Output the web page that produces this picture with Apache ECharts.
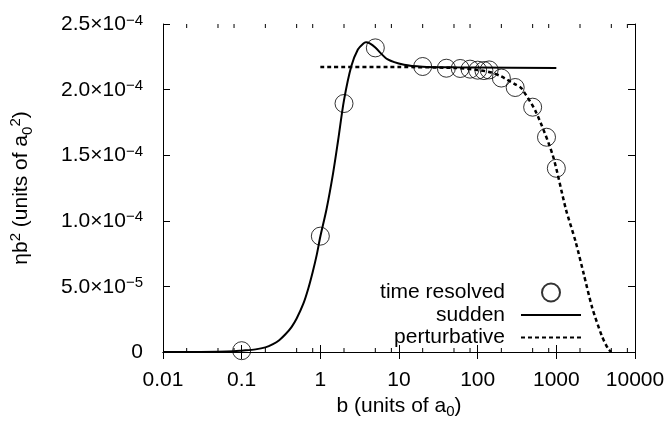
<!DOCTYPE html>
<html>
<head>
<meta charset="utf-8">
<script src="https://cdn.jsdelivr.net/npm/echarts@6/dist/echarts.min.js"></script>
<style>html,body{margin:0;padding:0;background:#fff;}#c{width:670px;height:424px;}</style>
</head>
<body>
<div id="c"></div>
<script>
// ---- data ----
const xTickValues = [0.01, 0.1, 1, 10, 100, 1000, 10000];
const xMinorTicks = [0.02,0.05,0.08, 0.2,0.5,0.8, 2,5,8, 20,50,80, 200,500,800, 2000,5000,8000];
const yTickValues = [0, 5e-5, 1e-4, 1.5e-4, 2e-4, 2.5e-4];

const timeResolvedB = [0.1, 1, 2, 5, 20, 40, 60, 80, 100, 120, 140, 200, 300, 500, 750, 1000];
const timeResolvedV = [1.0e-6, 8.83e-5, 1.894e-4, 2.318e-4, 2.176e-4, 2.163e-4, 2.161e-4, 2.156e-4, 2.148e-4, 2.145e-4, 2.150e-4, 2.088e-4, 2.016e-4, 1.866e-4, 1.637e-4, 1.40e-4];

const suddenB = [0.01, 0.03, 0.05, 0.08, 0.1, 0.15, 0.2, 0.25, 0.3, 0.36, 0.43, 0.5, 0.61, 0.7, 0.8, 0.9, 1.0, 1.2, 1.45, 1.68, 2.0, 2.48, 3.0, 3.5, 3.8, 4.3, 5, 7.2, 11.6, 20, 50, 100, 1000];
const suddenV = [0, 0, 1e-7, 5e-7, 1.0e-6, 2.0e-6, 3.5e-6, 6e-6, 9e-6, 1.35e-5, 1.9e-5, 2.55e-5, 3.7e-5, 4.8e-5, 6.1e-5, 7.4e-5, 8.8e-5, 1.09e-4, 1.36e-4, 1.61e-4, 1.92e-4, 2.18e-4, 2.305e-4, 2.35e-4, 2.36e-4, 2.35e-4, 2.32e-4, 2.23e-4, 2.19e-4, 2.175e-4, 2.17e-4, 2.168e-4, 2.165e-4];

const pertB = [1, 10, 50, 100, 150, 200, 300, 360, 550, 900, 1320, 1760, 2240, 2850, 3800, 4600, 5000];
const pertV = [2.172e-4, 2.172e-4, 2.165e-4, 2.15e-4, 2.13e-4, 2.10e-4, 2.04e-4, 2.01e-4, 1.83e-4, 1.50e-4, 1.09e-4, 8.4e-5, 5.9e-5, 3.4e-5, 1.2e-5, 2e-6, 0];

const seriesNames = ['time resolved', 'sudden', 'perturbative'];

// ---- chart ----
const FONT = 'Liberation Sans, Arial, Helvetica, sans-serif';
const FS = 21;
const X_MIN = xTickValues[0], X_MAX = xTickValues[xTickValues.length - 1];
const Y_MIN = yTickValues[0], Y_MAX = yTickValues[yTickValues.length - 1];
const zip = (a, b) => a.map((v, i) => [v, b[i]]);

function yFmt(v) {
  if (v === 0) return '{m|0}';
  const e = Math.floor(Math.log10(v) + 1e-9);
  const m = v / Math.pow(10, e);
  return '{m|' + m.toFixed(1) + '×10}{s|−' + (-e) + '}';
}
const supRich = {
  m: { fontSize: FS, fontFamily: FONT, color: '#000', lineHeight: 22, verticalAlign: 'bottom' },
  s: { fontSize: 15, fontFamily: FONT, color: '#000', lineHeight: 16, padding: [0, 0, 13, 0], verticalAlign: 'top' }
};

const chart = echarts.init(document.getElementById('c'), null, { renderer: 'canvas' });
chart.setOption({
  animation: false,
  backgroundColor: '#fff',
  grid: { left: 158, right: 35, top: 24, bottom: 66, containLabel: false },
  legend: {
    data: [
      { name: seriesNames[0] },
      { name: seriesNames[1], itemStyle: { opacity: 0 } },
      { name: seriesNames[2], itemStyle: { opacity: 0 } }
    ],
    orient: 'vertical',
    align: 'right',
    right: 83,
    top: 277,
    itemWidth: 60,
    itemHeight: 18,
    itemGap: 1.5,
    textStyle: { fontSize: FS, fontFamily: FONT, color: '#000', padding: [0, 11, 0, 0] },
    selectedMode: false
  },
  xAxis: [
    {
      type: 'log', logBase: 10, min: X_MIN, max: X_MAX, splitNumber: 6, position: 'bottom',
      name: 'b (units of a{sub|0})', nameLocation: 'middle', nameGap: 42,
      nameTextStyle: {
        fontSize: FS, fontFamily: FONT, color: '#000',
        rich: {
          sub: { fontSize: 15, fontFamily: FONT, color: '#000', padding: [10, 0, 0, 0], verticalAlign: 'bottom' }
        }
      },
      axisLine: { show: true, lineStyle: { color: '#000', width: 1 } },
      axisTick: { show: true, inside: true, length: 7, lineStyle: { color: '#000' } },
      axisLabel: { fontSize: FS, fontFamily: FONT, color: '#000', margin: 18,
        formatter: v => String(+(+v).toPrecision(6)) },
      splitLine: { show: false }
    },
    {
      type: 'log', logBase: 10, min: X_MIN, max: X_MAX, splitNumber: 6, position: 'top',
      axisLine: { show: true, lineStyle: { color: '#000', width: 1 } },
      axisTick: { show: true, inside: true, length: 7, lineStyle: { color: '#000' } },
      axisLabel: { show: false },
      splitLine: { show: false }
    }
  ],
  yAxis: [
    {
      type: 'value', min: Y_MIN, max: Y_MAX, interval: 5e-5, position: 'left',
      name: 'ηb{sup|2} (units of a{sub|0}{sup|2})', nameLocation: 'middle', nameGap: 128, nameRotate: 90,
      nameTextStyle: {
        fontSize: FS, fontFamily: FONT, color: '#000',
        rich: {
          sup: { fontSize: 15, fontFamily: FONT, color: '#000', padding: [0, 0, 12, 0], verticalAlign: 'top' },
          sub: { fontSize: 15, fontFamily: FONT, color: '#000', padding: [10, 0, 0, 0], verticalAlign: 'bottom' }
        }
      },
      axisLine: { show: true, lineStyle: { color: '#000', width: 1 } },
      axisTick: { show: true, inside: true, length: 7, lineStyle: { color: '#000' } },
      axisLabel: { margin: 20, formatter: yFmt, rich: supRich },
      splitLine: { show: false }
    },
    {
      type: 'value', min: Y_MIN, max: Y_MAX, interval: 5e-5, position: 'right',
      axisLine: { show: true, lineStyle: { color: '#000', width: 1 } },
      axisTick: { show: true, inside: true, length: 7, lineStyle: { color: '#000' } },
      axisLabel: { show: false },
      splitLine: { show: false }
    }
  ],
  series: [
    {
      name: seriesNames[0], type: 'scatter', data: zip(timeResolvedB, timeResolvedV),
      symbol: 'circle', symbolSize: 18, z: 5,
      itemStyle: { color: 'rgba(0,0,0,0)', borderColor: '#000', borderWidth: 1 }
    },
    {
      name: seriesNames[1], type: 'line', data: zip(suddenB, suddenV),
      symbol: 'none', showSymbol: false, smooth: 0.3, z: 3,
      lineStyle: { color: '#000', width: 2, type: 'solid' },
      itemStyle: { color: '#000' }
    },
    {
      name: seriesNames[2], type: 'line', data: zip(pertB, pertV),
      symbol: 'none', showSymbol: false, smooth: 0.25, z: 2,
      lineStyle: { color: '#000', width: 2.5, type: [4, 3] },
      itemStyle: { color: '#000' }
    },
    {
      type: 'custom', silent: true, clip: false, z: 1,
      data: xMinorTicks.map(v => [v, 0]),
      encode: { x: 0, y: 1 },
      renderItem: function (params, api) {
        const b = api.value(0);
        const p0 = api.coord([b, Y_MIN]);
        const p1 = api.coord([b, Y_MAX]);
        return {
          type: 'group', children: [
            { type: 'line', shape: { x1: p0[0], y1: p0[1], x2: p0[0], y2: p0[1] - 4 }, style: { stroke: '#000', lineWidth: 1 } },
            { type: 'line', shape: { x1: p1[0], y1: p1[1], x2: p1[0], y2: p1[1] + 4 }, style: { stroke: '#000', lineWidth: 1 } }
          ]
        };
      }
    }
  ]
});
</script>
</body>
</html>
